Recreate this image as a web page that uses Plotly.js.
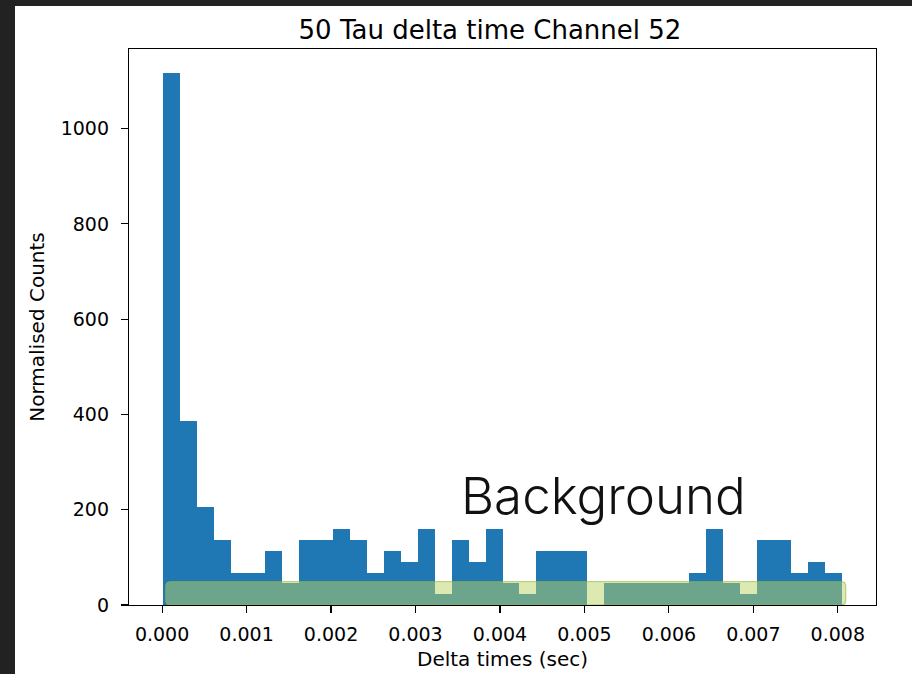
<!DOCTYPE html>
<html>
<head>
<meta charset="utf-8">
<script src="https://cdn.plot.ly/plotly-3.0.1.min.js"></script>
<style>
  html, body { margin: 0; padding: 0; background: #222222; }
  #chart { width: 912px; height: 674px; }
</style>
</head>
<body>
<div id="chart"></div>
<script>
// Histogram data (normalised counts per bin)
const binStart = 0.00001;      // left edge of first bin (sec)
const binWidth = 0.000201;     // bin width (sec)
const normCounts = [1116, 387, 205, 137, 68, 68, 114, 46, 137, 137,
                    159, 137, 68, 114, 91, 159, 23, 137, 91, 159,
                    46, 23, 114, 114, 114, 0, 46, 46, 46, 46,
                    46, 68, 159, 46, 23, 137, 137, 68, 91, 68];
const xTickVals = [0, 0.001, 0.002, 0.003, 0.004, 0.005, 0.006, 0.007, 0.008];
const xTickText = ["0.000", "0.001", "0.002", "0.003", "0.004", "0.005", "0.006", "0.007", "0.008"];
const yTickVals = [0, 200, 400, 600, 800, 1000];
const yTickText = ["0", "200", "400", "600", "800", "1000"];
const chartTitle = "50 Tau delta time Channel 52";
const xLabel = "Delta times (sec)";
const yLabel = "Normalised Counts";
const overlayLabel = "Background";

const binCenters = normCounts.map((_, i) => binStart + (i + 0.5) * binWidth);

const trace = {
  type: "bar",
  x: binCenters,
  y: normCounts,
  width: binWidth,
  marker: { color: "#1f77b4", line: { width: 0 } },
  hoverinfo: "x+y",
  showlegend: false
};

// rounded highlight rectangle (decoration)
const rx0 = 0.0000427, rx1 = 0.008094, ry0 = 0, ry1 = 49;
const rrx = 4 / 84330, rry = 4 / 0.4764;
const rectPath = `M ${rx0 + rrx},${ry0} L ${rx1 - rrx},${ry0} Q ${rx1},${ry0} ${rx1},${ry0 + rry} ` +
  `L ${rx1},${ry1 - rry} Q ${rx1},${ry1} ${rx1 - rrx},${ry1} L ${rx0 + rrx},${ry1} ` +
  `Q ${rx0},${ry1} ${rx0},${ry1 - rry} L ${rx0},${ry0 + rry} Q ${rx0},${ry0} ${rx0 + rrx},${ry0} Z`;

const L = 129, R = 36, T = 49, B = 69;
const W = 912, H = 674;
const pw = W - L - R, ph = H - T - B;
const px2x = p => (p - L) / pw;
const py2y = p => (H - B - p) / ph;

const layout = {
  width: W, height: H,
  margin: { l: L, r: R, t: T, b: B, pad: 0 },
  paper_bgcolor: "#222222",
  plot_bgcolor: "#ffffff",
  font: { family: "DejaVu Sans", color: "#000000" },
  title: {
    text: chartTitle,
    font: { family: "DejaVu Sans", size: 26, color: "#000000" },
    x: 490 / W, xanchor: "center", xref: "container",
    y: 1 - 30 / H, yanchor: "middle", yref: "container"
  },
  xaxis: {
    range: [-0.000392, 0.008452],
    tickvals: xTickVals, ticktext: xTickText,
    ticks: "outside", ticklen: 7, tickwidth: 1.2, tickcolor: "#000",
    showline: true, linecolor: "#000", linewidth: 1.2, mirror: true,
    showgrid: false, zeroline: false,
    tickfont: { family: "DejaVu Sans", size: 19, color: "#000" },
    ticklabelstandoff: 5,
    title: { text: xLabel, font: { family: "DejaVu Sans", size: 20, color: "#000" }, standoff: 8 },
    automargin: false
  },
  yaxis: {
    range: [0, 1167],
    tickvals: yTickVals, ticktext: yTickText,
    ticks: "outside", ticklen: 7, tickwidth: 1.2, tickcolor: "#000",
    showline: true, linecolor: "#000", linewidth: 1.2, mirror: true,
    showgrid: false, zeroline: false,
    tickfont: { family: "DejaVu Sans", size: 19, color: "#000" },
    ticklabelstandoff: 8,
    title: { text: yLabel, font: { family: "DejaVu Sans", size: 20, color: "#000" }, standoff: 10 },
    automargin: false
  },
  shapes: [
    { type: "rect", xref: "paper", yref: "paper",
      x0: px2x(15), x1: px2x(912), y0: py2y(674), y1: py2y(6),
      fillcolor: "#ffffff", line: { width: 0 }, layer: "below" },
    { type: "path", xref: "x", yref: "y", path: rectPath,
      fillcolor: "rgba(185,211,97,0.5)",
      line: { color: "rgba(150,180,60,0.7)", width: 1 }, layer: "above" }
  ],
  annotations: [
    { text: overlayLabel, xref: "paper", yref: "paper",
      x: px2x(603), y: py2y(495), xanchor: "center", yanchor: "middle",
      showarrow: false,
      font: { family: "Inter", size: 51, weight: 300, color: "#111111" } }
  ],
  bargap: 0
};

Plotly.newPlot("chart", [trace], layout, { displayModeBar: false, staticPlot: true });
</script>
</body>
</html>
